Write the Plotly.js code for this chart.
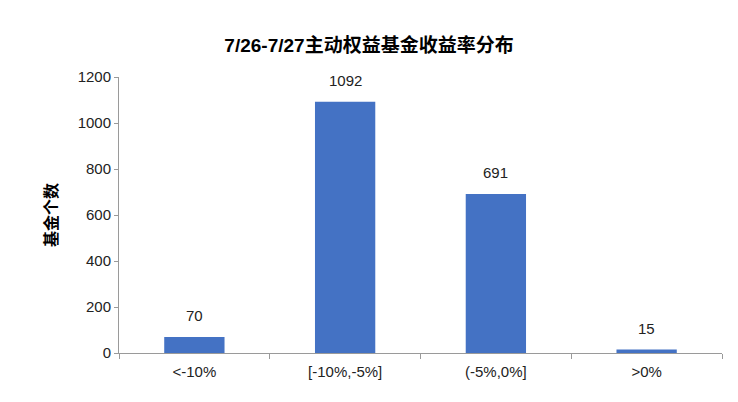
<!DOCTYPE html>
<html><head><meta charset="utf-8">
<script src="https://cdn.plot.ly/plotly-3.0.1.min.js"></script>
<style>html,body{margin:0;padding:0;background:#fff}</style>
</head><body>
<div id="chart" style="width:738px;height:402px"></div>
<script>
const categories = ["<-10%", "[-10%,-5%]", "(-5%,0%]", ">0%"];
const counts = [70, 1092, 691, 15];
const yTicks = [0, 200, 400, 600, 800, 1000, 1200];

const font = "'Liberation Sans', 'Noto Sans CJK SC', sans-serif";
Plotly.newPlot('chart', [{
  type: 'bar',
  x: categories,
  y: counts,
  width: 0.4,
  marker: {color: '#4472C4'},
  hoverinfo: 'none'
}], {
  width: 738, height: 402,
  margin: {l: 119, r: 16, t: 77, b: 49},
  paper_bgcolor: '#fff', plot_bgcolor: '#fff',
  showlegend: false,
  title: {text: '<b>7/26-7/27主动权益基金收益率分布</b>', x: 0.5, xanchor: 'center', y: 0.888, yanchor: 'middle',
    font: {family: font, size: 19, color: '#000'}},
  annotations: categories.map((c, i) => ({
    x: c, y: counts[i], xref: 'x', yref: 'y', text: String(counts[i]),
    showarrow: false, yanchor: 'bottom', yshift: 11,
    font: {family: font, size: 15, color: '#222'}
  })),
  xaxis: {
    type: 'category',
    showline: true, linecolor: '#9a9a9a', linewidth: 1,
    ticks: 'outside', tickson: 'boundaries', ticklen: 5, tickcolor: '#9a9a9a',
    ticklabelstandoff: 5,
    tickfont: {family: font, size: 15, color: '#222'},
    showgrid: false, zeroline: false
  },
  yaxis: {
    range: [0, 1200], tickvals: yTicks, ticktext: yTicks.map(String),
    showline: true, linecolor: '#9a9a9a', linewidth: 1,
    ticks: 'outside', ticklen: 4, tickcolor: '#9a9a9a',
    tickfont: {family: font, size: 15, color: '#222'},
    showgrid: false, zeroline: false,
    title: {text: '<b>基金个数</b>', font: {family: font, size: 16, color: '#000'}, standoff: 16}
  }
}, {displayModeBar: false, staticPlot: true});
</script>
</body></html>
